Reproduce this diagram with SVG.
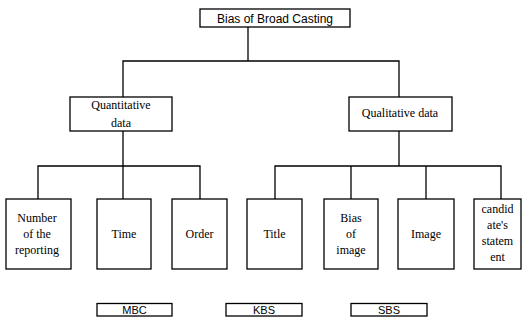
<svg xmlns="http://www.w3.org/2000/svg" width="527" height="322" viewBox="0 0 527 322">
<style>
rect{fill:#fff;stroke:#000;stroke-width:1.3}
.c line,.c polyline{fill:none;stroke:#000;stroke-width:1.3}
.s{font-family:"Liberation Sans",Arial,sans-serif;font-size:12px;text-anchor:middle;fill:#000}
.b{font-family:"Liberation Sans",Arial,sans-serif;font-size:11px;text-anchor:middle;fill:#000}
.t{font-family:"Liberation Serif","Times New Roman",serif;font-size:12px;text-anchor:middle;fill:#000}
</style>
<rect x="0" y="0" width="527" height="322" style="fill:#fff;stroke:none"/>
<g class="c" id="connectors">
<line x1="248" y1="27" x2="248" y2="61"/>
<polyline points="123,97 123,61 399,61 399,97"/>
<line x1="123" y1="131" x2="123" y2="166"/>
<polyline points="38,199 38,166 200,166 200,199"/>
<line x1="123" y1="166" x2="123" y2="199"/>
<line x1="399" y1="131" x2="399" y2="166"/>
<polyline points="275,199 275,166 501,166 501,199"/>
<line x1="351" y1="166" x2="351" y2="199"/>
<line x1="426" y1="166" x2="426" y2="199"/>
</g>
<g id="root"><rect x="200" y="9" width="150" height="18"/><text class="s" x="275" y="22.5">Bias of Broad Casting</text></g>
<g id="quant"><rect x="70" y="97" width="102" height="34"/><text class="t" x="121" y="109">Quantitative</text><text class="t" x="121" y="127">data</text></g>
<g id="qual"><rect x="349" y="97" width="103" height="34"/><text class="t" x="400" y="117">Qualitative data</text></g>
<g id="number"><rect x="6" y="199" width="65" height="70"/><text class="t" x="37" y="222">Number</text><text class="t" x="37" y="238">of the</text><text class="t" x="37" y="254">reporting</text></g>
<g id="time"><rect x="97" y="199" width="54" height="70"/><text class="t" x="124" y="238">Time</text></g>
<g id="order"><rect x="172" y="199" width="55" height="70"/><text class="t" x="199.5" y="238">Order</text></g>
<g id="title"><rect x="247" y="199" width="55" height="70"/><text class="t" x="274.5" y="238">Title</text></g>
<g id="biasimage"><rect x="324" y="199" width="54" height="70"/><text class="t" x="351" y="222">Bias</text><text class="t" x="351" y="238">of</text><text class="t" x="351" y="254">image</text></g>
<g id="image"><rect x="398" y="199" width="56" height="70"/><text class="t" x="426" y="238">Image</text></g>
<g id="candidate"><rect x="474" y="199" width="47" height="70"/><text class="t" x="497.5" y="213">candid</text><text class="t" x="497.5" y="229">ate's</text><text class="t" x="497.5" y="245">statem</text><text class="t" x="497.5" y="261">ent</text></g>
<g id="mbc"><rect x="97" y="303.5" width="75" height="12.5"/><text class="b" x="134.5" y="313.5">MBC</text></g>
<g id="kbs"><rect x="226" y="303.5" width="76" height="12.5"/><text class="b" x="264" y="313.5">KBS</text></g>
<g id="sbs"><rect x="351" y="303.5" width="76" height="12.5"/><text class="b" x="389" y="313.5">SBS</text></g>
</svg>
